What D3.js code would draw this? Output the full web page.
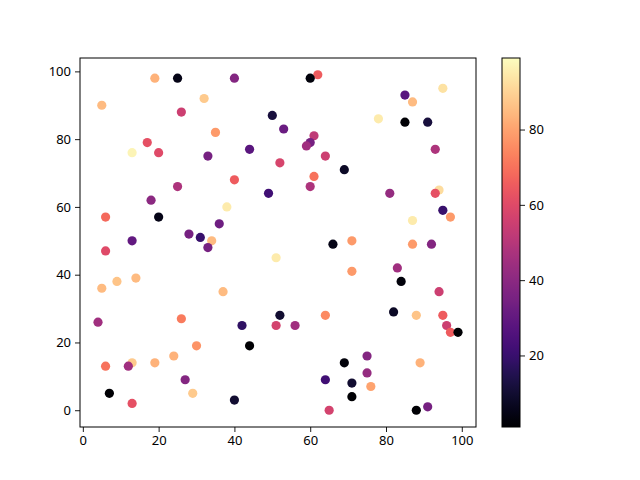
<!DOCTYPE html>
<html>
<head>
<meta charset="utf-8">
<script src="https://cdn.jsdelivr.net/npm/d3@7"></script>
<style>
  body { margin: 0; background: #fff; }
  svg text { font-family: "Noto Sans", "DejaVu Sans", sans-serif; font-size: 13px; fill: #000; }
</style>
</head>
<body>
<svg id="chart" width="640" height="480"></svg>
<script>
// scatter data
const xs = [5, 19, 25, 40, 32, 26, 50, 35, 17, 13, 20, 33, 44, 52, 40, 25, 18, 49, 38, 6,
  20, 36, 28, 31, 34, 13, 62, 60, 85, 87, 95, 78, 85, 91, 53, 61, 60, 59, 93, 64,
  69, 61, 60, 81, 94, 93, 95, 97, 87, 6, 33, 51, 5, 9, 14, 37, 4, 26, 42, 51,
  52, 44, 30, 24, 19, 13, 12, 6, 27, 7, 29, 13, 40, 66, 71, 87, 92, 71, 83, 84,
  94, 56, 64, 82, 88, 95, 96, 97, 99, 75, 69, 89, 75, 64, 71, 76, 71, 65, 88, 91];
const ys = [90, 98, 98, 98, 92, 88, 87, 82, 79, 76, 76, 75, 77, 73, 68, 66, 62, 64, 60, 57,
  57, 55, 52, 51, 50, 50, 99, 98, 93, 91, 95, 86, 85, 85, 83, 81, 79, 78, 77, 75,
  71, 69, 66, 64, 65, 64, 59, 57, 56, 47, 48, 45, 36, 38, 39, 35, 26, 27, 25, 25,
  28, 19, 19, 16, 14, 14, 13, 13, 9, 5, 5, 2, 3, 49, 50, 49, 49, 41, 42, 38,
  35, 25, 28, 29, 28, 28, 25, 23, 23, 16, 14, 14, 11, 9, 8, 7, 4, 0, 0, 1];
const cs = [85, 83, 5, 38, 88, 55, 12, 78, 62, 97, 60, 35, 28, 58, 65, 48, 40, 22, 95, 68,
  5, 33, 35, 20, 85, 30, 65, 3, 28, 85, 93, 95, 2, 12, 32, 52, 35, 45, 48, 55,
  8, 70, 48, 42, 92, 62, 20, 78, 95, 60, 35, 95, 85, 87, 85, 85, 45, 72, 18, 57,
  10, 1, 77, 83, 83, 88, 45, 70, 38, 1, 88, 62, 10, 5, 78, 78, 38, 78, 45, 3,
  55, 45, 75, 8, 87, 65, 55, 65, 1, 38, 3, 83, 42, 22, 10, 80, 1, 57, 1, 35];
const xTicks = [0, 20, 40, 60, 80, 100];
const yTicks = [0, 20, 40, 60, 80, 100];
const cTicks = [20, 40, 60, 80];

const svg = d3.select("#chart");
const plotL = 80, plotR = 476, plotT = 58, plotB = 427;

const x = d3.scaleLinear().domain([-0.75, 103.75]).range([plotL, plotR]);
const y = d3.scaleLinear().domain([-4.95, 103.95]).range([plotB, plotT]);
const color = d3.scaleSequential(d3.interpolateMagma).domain([1, 99]);

const points = xs.map((v, i) => ({ x: v, y: ys[i], c: cs[i] }));

svg.append("g")
  .selectAll("circle")
  .data(points)
  .enter().append("circle")
  .attr("cx", d => x(d.x))
  .attr("cy", d => y(d.y))
  .attr("r", 4.6)
  .attr("fill", d => color(d.c));

// axes
const xAxis = svg.append("g")
  .attr("transform", `translate(0,${plotB})`)
  .call(d3.axisBottom(x).tickValues(xTicks).tickSize(5).tickPadding(4));
const yAxis = svg.append("g")
  .attr("transform", `translate(${plotL},0)`)
  .call(d3.axisLeft(y).tickValues(yTicks).tickSize(5).tickPadding(4));
[xAxis, yAxis].forEach(a => {
  a.select(".domain").remove();
  a.selectAll("line").attr("stroke", "#000").attr("stroke-width", 0.9);
  a.selectAll("text").attr("font-size", 13).attr("font-family", null);
});

svg.append("rect")
  .attr("x", plotL).attr("y", plotT)
  .attr("width", plotR - plotL).attr("height", plotB - plotT)
  .attr("fill", "none").attr("stroke", "#000").attr("stroke-width", 1);

// colorbar
const cbLeft = 502, cbRight = 520;
const cy = d3.scaleLinear().domain([1, 99]).range([plotB, plotT]);
const defs = svg.append("defs");
const grad = defs.append("linearGradient")
  .attr("id", "cbgrad")
  .attr("x1", 0).attr("y1", 1).attr("x2", 0).attr("y2", 0);
d3.range(0, 1.0001, 0.02).forEach(t => {
  grad.append("stop")
    .attr("offset", t)
    .attr("stop-color", d3.interpolateMagma(t));
});
svg.append("rect")
  .attr("x", cbLeft).attr("y", plotT)
  .attr("width", cbRight - cbLeft).attr("height", plotB - plotT)
  .attr("fill", "url(#cbgrad)")
  .attr("stroke", "#000").attr("stroke-width", 1);

const cAxis = svg.append("g")
  .attr("transform", `translate(${cbRight},0)`)
  .call(d3.axisRight(cy).tickValues(cTicks).tickSize(5).tickPadding(4));
cAxis.select(".domain").remove();
cAxis.selectAll("line").attr("stroke", "#000").attr("stroke-width", 0.9);
cAxis.selectAll("text").attr("font-size", 13).attr("font-family", null);
</script>
</body>
</html>
